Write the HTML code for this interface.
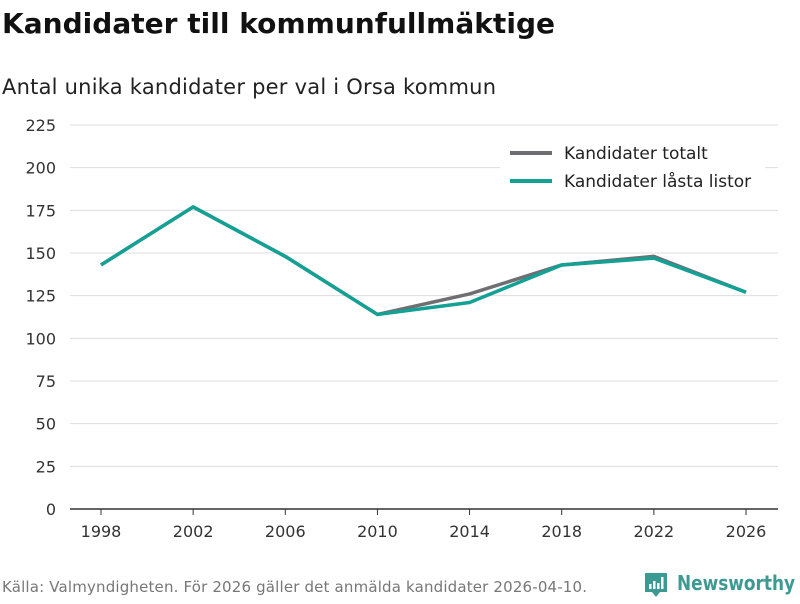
<!DOCTYPE html>
<html><head><meta charset="utf-8"><style>
body{margin:0;width:800px;height:600px;background:#fff;font-family:"DejaVu Sans","Liberation Sans",sans-serif;overflow:hidden}
</style></head><body>
<svg width="800" height="600" xmlns="http://www.w3.org/2000/svg">
<text x="2" y="33" font-size="28" font-weight="bold" fill="#111" textLength="553">Kandidater till kommunfullmäktige</text>
<text x="2" y="94" font-size="21" fill="#222" textLength="494">Antal unika kandidater per val i Orsa kommun</text>
<g id="grid"></g>
<g id="yticks"></g>
<g id="xticks"></g>
<g id="lines"></g>
<g>
<rect x="500" y="140" width="265" height="56" fill="#fff"/>
<line x1="510" y1="153" x2="552" y2="153" stroke="#6e6e73" stroke-width="4"/>
<text x="564" y="159" font-size="17" fill="#222">Kandidater totalt</text>
<line x1="510" y1="181" x2="552" y2="181" stroke="#13a095" stroke-width="4"/>
<text x="564" y="187" font-size="17" fill="#222">Kandidater låsta listor</text>
</g>
<text x="2" y="592" font-size="15" fill="#777" textLength="585">Källa: Valmyndigheten. För 2026 gäller det anmälda kandidater 2026-04-10.</text>
<g>
<path d="M645 573 h22 v19 h-7 l-4 5 l-4 -5 h-7 z" fill="#3d9a93"/>
<rect x="649" y="584" width="2.5" height="5" fill="#fff"/><rect x="653" y="581" width="2.5" height="8" fill="#fff"/><rect x="657" y="583" width="2.5" height="6" fill="#fff"/><rect x="661" y="577" width="2.5" height="12" fill="#fff"/>
<text x="677" y="590" font-size="20" font-weight="bold" fill="#3d9a93" textLength="118" lengthAdjust="spacingAndGlyphs">Newsworthy</text>
</g>
</svg>
<script>
const years=["1998","2002","2006","2010","2014","2018","2022","2026"];
const totalt=[143,177,148,114,126,143,148,127];
const lasta=[143,177,148,114,121,143,147,127];
const yTicks=[0,25,50,75,100,125,150,175,200,225];
const NS="http://www.w3.org/2000/svg";
const x0=101,x1=746,yBase=509,yTop=125,yMax=225;
const xs=i=>x0+(x1-x0)*i/(years.length-1);
const ys=v=>yBase-(yBase-yTop)*v/yMax;
function mk(tag,attrs,parent){const e=document.createElementNS(NS,tag);for(const k in attrs)e.setAttribute(k,attrs[k]);parent.appendChild(e);return e;}
const grid=document.getElementById('grid'),yt=document.getElementById('yticks'),xt=document.getElementById('xticks'),lines=document.getElementById('lines');
yTicks.forEach(v=>{
 const l=mk('line',{x1:70,x2:778,y1:ys(v),y2:ys(v),stroke:v===0?'#333':'#ddd','stroke-width':v===0?1.5:1},grid);
 
 
 const t=mk('text',{x:56,y:ys(v)+6,'font-size':16,fill:'#333','text-anchor':'end'},yt);
 
 
 t.textContent=v;
});
years.forEach((y,i)=>{
 const tk=mk('line',{x1:xs(i),x2:xs(i),y1:yBase,y2:yBase+6,stroke:'#333'},xt);
 
 
 const t=mk('text',{x:xs(i),y:537,'font-size':16,fill:'#333','text-anchor':'middle'},xt);
 
 
 t.textContent=y;
});
function line(data,color,name){
 const p=mk('polyline',{points:data.map((v,i)=>xs(i)+','+ys(v)).join(' '),fill:'none',stroke:color,'stroke-width':3.5,'stroke-linejoin':'round'},lines);
 
 
}
line(totalt,'#6e6e73','line-kandidater-totalt');
line(lasta,'#13a095','line-kandidater-lasta-listor');
</script>
</body></html>
